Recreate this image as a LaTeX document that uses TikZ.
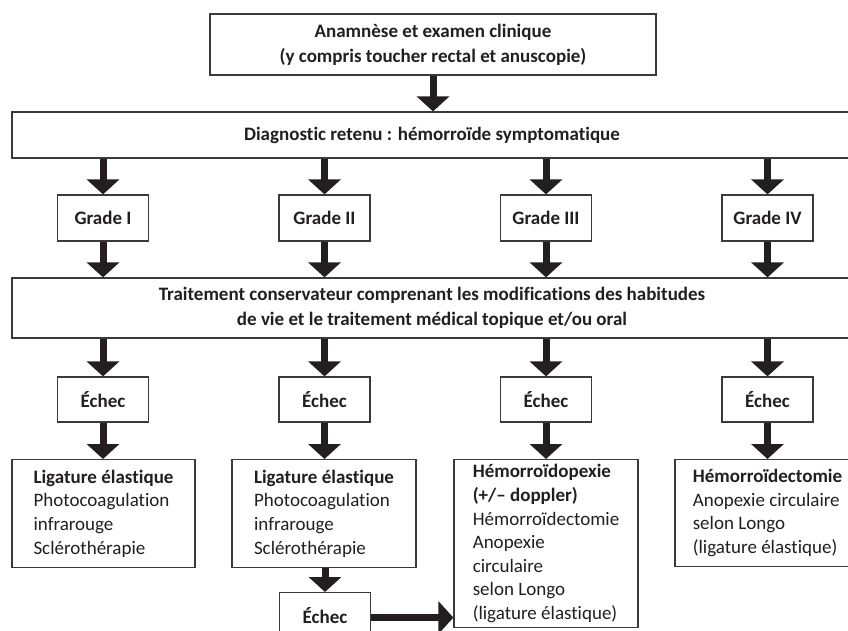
\documentclass[tikz,border=0pt]{standalone}
\usepackage{fontspec}
\setmainfont{Carlito}[Ligatures={NoCommon,NoContextual}]
\usetikzlibrary{arrows.meta}
\definecolor{ink}{HTML}{231F20}
\definecolor{edge}{HTML}{3A3A3A}
\tikzset{
  box/.style={draw=edge, line width=1.2pt, fill=white, text=ink, inner sep=0pt, font=\fontsize{19}{25}\selectfont\bfseries, align=center},
  gradebox/.style={box, minimum width=91pt, minimum height=46pt},
  treatbox/.style={draw=edge, line width=1.2pt, fill=white, text=ink, inner xsep=0pt, inner ysep=5pt, font=\fontsize{19}{23.6}\selectfont, align=left, anchor=north},
  flow/.style={draw=ink, line width=7pt, -{Triangle[width=32pt,length=15pt]}}
}
\begin{document}
\begin{tikzpicture}[x=1pt,y=-1pt]
\useasboundingbox (0,0) rectangle (848,631);
\clip (0,0) rectangle (848,631);
\fill[white] (0,0) rectangle (848,631);
% top
\node[box, minimum width=446pt, minimum height=61pt] (top) at (433,44.5)
  {Anamnèse et examen clinique\\(y compris toucher rectal et anuscopie)};
\node[box, minimum width=840pt, minimum height=46pt] (diag) at (432,135)
  {Diagnostic retenu : hémorroïde symptomatique};
% grades
\node[gradebox] (g1) at (103,218) {Grade I};
\node[gradebox] (g2) at (324.5,218) {Grade II};
\node[gradebox] (g3) at (546,218) {Grade III};
\node[gradebox] (g4) at (767.5,218) {Grade IV};
% treatment
\node[box, minimum width=840pt, minimum height=60pt] (trait) at (432,308)
  {Traitement conservateur comprenant les modifications des habitudes\\de vie et le traitement médical topique et/ou oral};
% echecs
\node[gradebox, minimum height=45pt] (e1) at (103,399.5) {Échec};
\node[gradebox, minimum height=45pt] (e2) at (324.5,399.5) {Échec};
\node[gradebox, minimum height=45pt] (e3) at (546,399.5) {Échec};
\node[gradebox, minimum height=45pt] (e4) at (767.5,399.5) {Échec};
% options
\node[treatbox, minimum width=183pt, minimum height=108pt] (t1) at (103.5,459)
  {\textbf{Ligature élastique}\\Photocoagulation\\infrarouge\\Sclérothérapie};
\node[treatbox, minimum width=184pt, minimum height=108pt] (t2) at (324,459)
  {\textbf{Ligature élastique}\\Photocoagulation\\infrarouge\\Sclérothérapie};
\node[treatbox, minimum width=184pt] (t3) at (546,459)
  {\textbf{Hémorroïdopexie}\\\textbf{(+/– doppler)}\\Hémorroïdectomie\\Anopexie\\circulaire\\selon Longo\\(ligature élastique)};
\node[treatbox, minimum width=185pt, minimum height=107pt] (t4) at (767.5,459)
  {\textbf{Hémorroïdectomie}\\Anopexie circulaire\\selon Longo\\(ligature élastique)};
\node[gradebox, anchor=north] (e5) at (325,592) {Échec};
% arrows
\draw[flow] (top.south) -- (top.south |- diag.north);
\foreach \g in {g1,g2,g3,g4}{
  \draw[flow] (diag.south -| \g.north) -- (\g.north);
  \draw[flow] (\g.south) -- (\g.south |- trait.north);
}
\foreach \e/\t in {e1/t1,e2/t2,e3/t3,e4/t4}{
  \draw[flow] (trait.south -| \e.north) -- (\e.north);
  \draw[flow] (\e.south) -- (\e.south |- \t.north);
}
\draw[flow] (t2.south -| e5.north) -- (e5.north);
\draw[flow] ([yshift=-2pt]e5.east) -- ([yshift=-2pt]e5.east -| t3.west);
\end{tikzpicture}
\end{document}
